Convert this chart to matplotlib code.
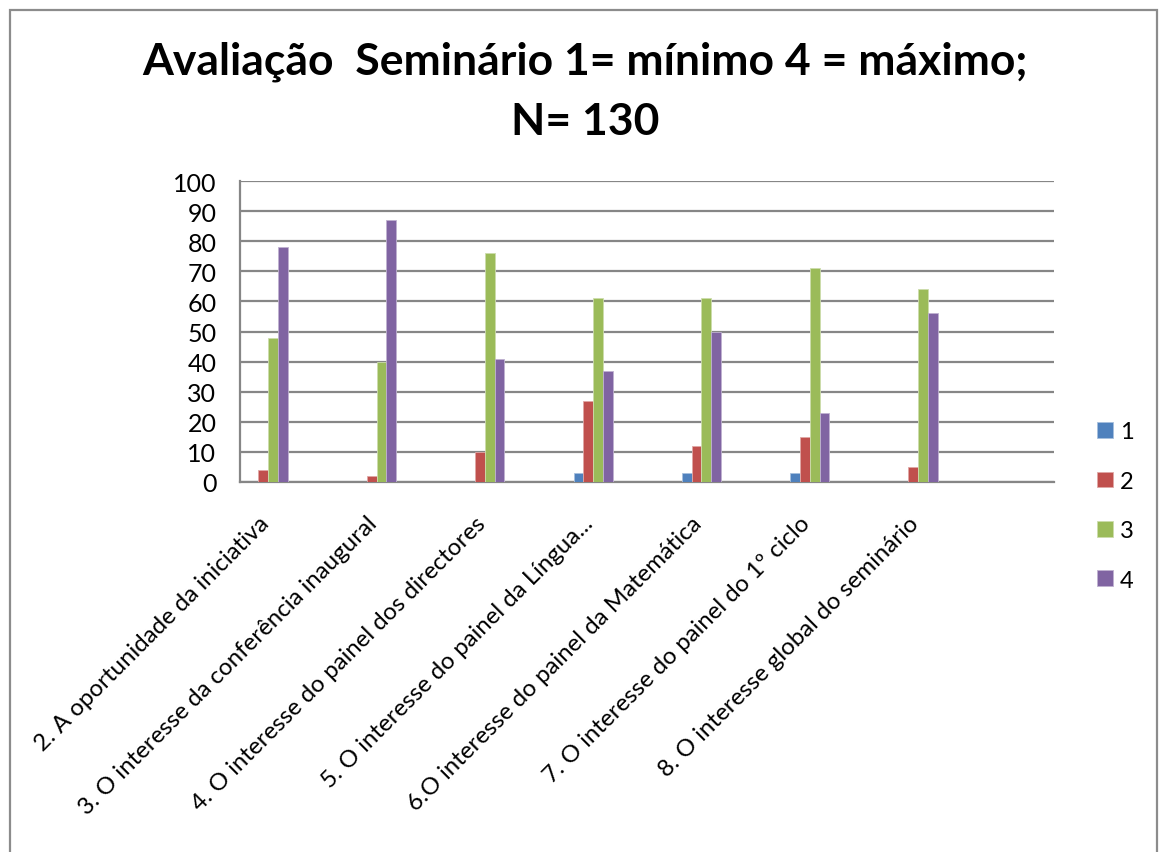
import numpy as np
import matplotlib
matplotlib.use("Agg")
import matplotlib.pyplot as plt
import matplotlib.transforms as mtransforms
from matplotlib.patches import Rectangle

plt.rcParams['font.family'] = ['Lato', 'DejaVu Sans']

categorias = [
    "2. A oportunidade da iniciativa",
    "3. O interesse da conferência inaugural",
    "4. O interesse do painel dos directores",
    "5. O interesse do painel da Língua...",
    "6.O interesse do painel da Matemática",
    "7. O interesse do painel do 1º ciclo",
    "8. O interesse global do seminário",
]
nivel_1 = [0, 0, 0, 3, 3, 3, 0]
nivel_2 = [4, 2, 10, 27, 12, 15, 5]
nivel_3 = [48, 40, 76, 61, 61, 71, 64]
nivel_4 = [78, 87, 41, 37, 50, 23, 56]
series = ["1", "2", "3", "4"]
cores = ["#4F81BD", "#C0504D", "#9BBB59", "#8064A2"]
bordas = ["#A7C0DE", "#E0A8A6", "#CDDDAC", "#BFB1D0"]

fig = plt.figure(figsize=(11.63, 8.53), dpi=100)
ax = fig.add_axes([240 / 1163, 1 - 483 / 853, 814 / 1163, 301 / 853])

# moldura exterior do gráfico
fig.patches.append(Rectangle((10 / 1163, -0.05), 1147 / 1163, 1.05 - 11 / 853,
                             transform=fig.transFigure, fill=False,
                             edgecolor="#8C8C8C", linewidth=1.6, zorder=0))

x = np.arange(len(categorias))
w = 0.0905
valores = [nivel_1, nivel_2, nivel_3, nivel_4]
for i, (vals, cor, borda, nome) in enumerate(zip(valores, cores, bordas, series)):
    ax.bar(x + (i - 1.5) * w, vals, width=w, color=cor, edgecolor=borda,
           linewidth=0.6, label=nome, zorder=3)

ax.set_ylim(0, 100)
ax.set_xlim(-0.261, 7.255)
ax.set_yticks(np.arange(0, 101, 10))
ax.yaxis.grid(True, color="#868686", linewidth=1.6, zorder=1)
ax.set_axisbelow(True)
for s in ["top", "right"]:
    ax.spines[s].set_visible(False)
for s in ["left", "bottom"]:
    ax.spines[s].set_color("#868686")
    ax.spines[s].set_linewidth(1.6)
ax.tick_params(axis="both", length=0, labelsize=18)
ax.tick_params(axis="y", pad=17)

ax.set_xticks(x)
ax.set_xticklabels(categorias, rotation=45, ha="right", va="center",
                   rotation_mode="anchor", fontsize=17.3)
ax.tick_params(axis="x", pad=27)
desloc = mtransforms.ScaledTranslation(-3 / 100, 0, fig.dpi_scale_trans)
for lbl in ax.get_xticklabels():
    lbl.set_transform(lbl.get_transform() + desloc)

fig.text(585 / 1163, 1 - 92 / 853, "Avaliação  Seminário 1= mínimo 4 = máximo;\nN= 130",
         ha="center", va="center", fontsize=32, fontweight="bold", linespacing=1.6)

fig.legend(loc="center left", bbox_to_anchor=(1076 / 1163, 1 - 507 / 853),
           frameon=False, fontsize=17, handlelength=0.65, handleheight=0.65,
           labelspacing=1.2, handletextpad=0.3)

fig.savefig("out.png", dpi=100)
